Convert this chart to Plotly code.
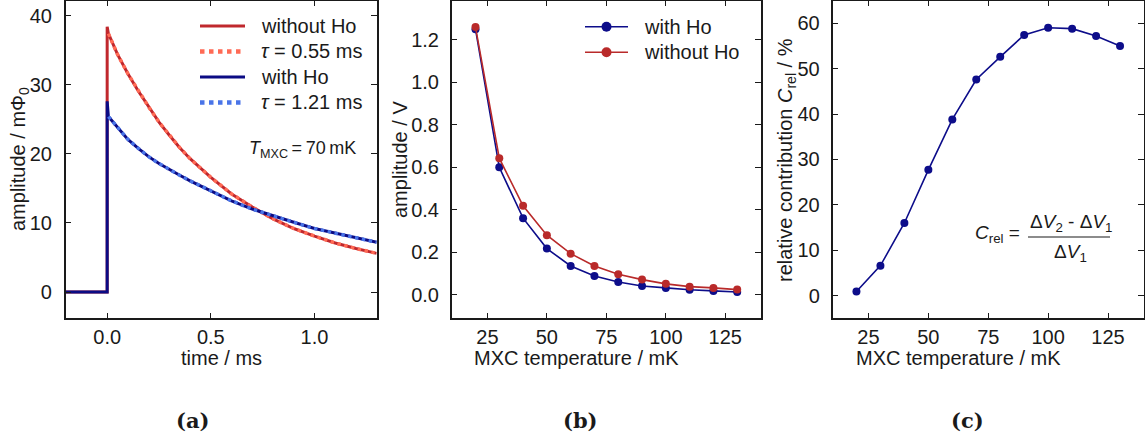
import plotly.graph_objects as go

# ---- (a) detector pulses at T_MXC = 70 mK ----
t_without = [-0.2, 0.0, 0.0, 0.006, 0.05, 0.1, 0.15, 0.2, 0.25, 0.3, 0.35, 0.4, 0.45,
             0.5, 0.6, 0.7, 0.8, 0.9, 1.0, 1.1, 1.2, 1.3]
amp_without = [0, 0, 38.4, 37.4, 34.4, 31.6, 29.1, 26.8, 24.6, 22.7, 20.9, 19.3, 17.9,
               16.6, 14.2, 12.3, 10.6, 9.2, 8.1, 7.1, 6.3, 5.6]

t_with = [-0.2, 0.0, 0.0, 0.006, 0.02, 0.05, 0.1, 0.15, 0.2, 0.25, 0.3, 0.35, 0.4, 0.45,
          0.5, 0.6, 0.7, 0.8, 0.9, 1.0, 1.1, 1.2, 1.3]
amp_with = [0, 0, 27.6, 25.4, 24.9, 23.8, 22.1, 20.8, 19.6, 18.6, 17.7, 16.9, 16.1, 15.4,
            14.7, 13.2, 12.0, 11.0, 10.1, 9.2, 8.5, 7.8, 7.2]

# exponential fits start right after the rising edge
fit_start_without = 3
fit_start_with = 3
tau_without = "0.55"
tau_with = "1.21"

# ---- (b) pulse amplitude vs mixing-chamber temperature ----
temps = [20, 30, 40, 50, 60, 70, 80, 90, 100, 110, 120, 130]
amp_v_with = [1.25, 0.60, 0.361, 0.218, 0.136, 0.089, 0.061, 0.042, 0.033, 0.024, 0.019, 0.014]
amp_v_without = [1.26, 0.643, 0.419, 0.281, 0.194, 0.136, 0.097, 0.072, 0.052, 0.039, 0.033, 0.025]

# ---- (c) relative contribution ----
c_rel = [0.9, 6.6, 16.0, 27.7, 38.8, 47.6, 52.6, 57.4, 59.0, 58.8, 57.2, 55.0]

W, H = 1145, 439
RED = "#c0282d"
RED_FIT = "#ff6a55"
BLUE = "#0b0b84"
BLUE_FIT = "#4a74e8"
RED_B = "#b92a2a"
BLUE_B = "#0d0d8a"
SANS = "Liberation Sans, Arial, sans-serif"
INK = "#1a1a1a"

fig = go.Figure()

# (a)
fig.add_trace(go.Scatter(x=t_without, y=amp_without, mode="lines", name="without Ho",
                         line=dict(color=RED, width=3), xaxis="x", yaxis="y"))
fig.add_trace(go.Scatter(x=t_without[fit_start_without:], y=amp_without[fit_start_without:],
                         mode="lines", name=f"τ = {tau_without} ms",
                         line=dict(color=RED_FIT, width=3.5, dash="dot"), xaxis="x", yaxis="y"))
fig.add_trace(go.Scatter(x=t_with, y=amp_with, mode="lines", name="with Ho",
                         line=dict(color=BLUE, width=3), xaxis="x", yaxis="y"))
fig.add_trace(go.Scatter(x=t_with[fit_start_with:], y=amp_with[fit_start_with:],
                         mode="lines", name=f"τ = {tau_with} ms",
                         line=dict(color=BLUE_FIT, width=3.5, dash="dot"), xaxis="x", yaxis="y"))

# (b)
fig.add_trace(go.Scatter(x=temps, y=amp_v_with, mode="lines+markers", name="with Ho",
                         line=dict(color=BLUE_B, width=1.6), marker=dict(color=BLUE_B, size=8),
                         xaxis="x2", yaxis="y2"))
fig.add_trace(go.Scatter(x=temps, y=amp_v_without, mode="lines+markers", name="without Ho",
                         line=dict(color=RED_B, width=1.6), marker=dict(color=RED_B, size=8),
                         xaxis="x2", yaxis="y2"))

# (c)
fig.add_trace(go.Scatter(x=temps, y=c_rel, mode="lines+markers", name="C_rel",
                         line=dict(color=BLUE_B, width=1.6), marker=dict(color=BLUE_B, size=8),
                         xaxis="x3", yaxis="y3"))

ydom = [(H - 318.3) / H, (H - 0.5) / H]


def ax(domain, rng, dtick, tick0=0, fmt=None, standoff=0, anchor=None):
    d = dict(domain=domain, range=rng, dtick=dtick, tick0=tick0, showline=True,
             linewidth=1.5, linecolor=INK, mirror="ticks", ticks="inside", ticklen=6,
             tickwidth=1.2, tickcolor=INK, showgrid=False, zeroline=False,
             tickfont=dict(family=SANS, size=20, color=INK), ticklabelstandoff=standoff)
    if fmt:
        d["tickformat"] = fmt
    if anchor:
        d["anchor"] = anchor
    return d


fig.update_layout(
    width=W, height=H, margin=dict(l=0, r=0, t=0, b=0),
    paper_bgcolor="white", plot_bgcolor="white", showlegend=False,
    font=dict(family=SANS, size=20, color=INK),
    xaxis=ax([65.7 / W, 376.7 / W], [-0.2, 1.3], 0.5, fmt=".1f", standoff=0, anchor="y"),
    yaxis=ax(ydom, [-3.8, 42.2], 10, standoff=8, anchor="x"),
    xaxis2=ax([451.7 / W, 761 / W], [10, 140], 25, standoff=0, anchor="y2"),
    yaxis2=ax(ydom, [-0.11, 1.385], 0.2, fmt=".1f", standoff=7, anchor="x2"),
    xaxis3=ax([832.5 / W, 1144 / W], [10, 140], 25, standoff=0, anchor="y3"),
    yaxis3=ax(ydom, [-5, 65], 10, standoff=7, anchor="x3"),
)


def px(x):
    return x / W


def py(y):
    return 1 - y / H


def note(x, y, text, size=20, angle=0, family=SANS, xanchor="center"):
    fig.add_annotation(x=px(x), y=py(y), xref="paper", yref="paper", text=text,
                       showarrow=False, textangle=angle, xanchor=xanchor, yanchor="middle",
                       font=dict(family=family, size=size, color=INK))


def key_line(x0, x1, y, color, width, dash="solid"):
    fig.add_shape(type="line", xref="paper", yref="paper", x0=px(x0), x1=px(x1),
                  y0=py(y), y1=py(y), line=dict(color=color, width=width, dash=dash))


def key_dot(xc, y, color, r=5):
    fig.add_shape(type="circle", xref="paper", yref="paper", x0=px(xc - r), x1=px(xc + r),
                  y0=py(y + r), y1=py(y - r), fillcolor=color, line=dict(color=color, width=0))


# legend of (a), built from the traces' own names and styles
rows_a = [26, 51.5, 77, 102.5]
for tr, yr in zip(fig.data[:4], rows_a):
    dotted = tr.line.dash == "dot"
    key_line(200, 245, yr, tr.line.color, 4.5 if dotted else 3, "dot" if dotted else "solid")
    label = tr.name.replace("τ", "<i>τ</i>")
    note(259, yr, label, xanchor="left")

# legend of (b)
rows_b = [26.7, 52.3]
for tr, yr in zip(fig.data[4:6], rows_b):
    key_line(585, 628, yr, tr.line.color, 1.6)
    key_dot(606.5, yr, tr.marker.color, r=5)
    note(642, yr, tr.name, xanchor="left")

# axis titles
note(221, 358, "time / ms")
note(19, 159, "amplitude / mΦ<sub>0</sub>", angle=-90)
note(576, 358, "MXC temperature / mK")
note(400, 160, "amplitude / V", angle=-90)
note(958, 358, "MXC temperature / mK")
note(786, 160, "relative contribution <i>C</i><sub>rel</sub> / %", angle=-90)

# temperature label in (a)
note(358, 149, "<i>T</i><sub>MXC</sub>\u2009=\u200970\u2009mK", size=18, xanchor="right")

# C_rel definition in (c)
note(997, 234, "<i>C</i><sub>rel</sub> =", size=19)
note(1071, 223, "Δ<i>V</i><sub>2</sub> - Δ<i>V</i><sub>1</sub>", size=19)
note(1070, 253, "Δ<i>V</i><sub>1</sub>", size=19)
fig.add_shape(type="line", xref="paper", yref="paper", x0=px(1028), x1=px(1110),
              y0=py(237), y1=py(237), line=dict(color=INK, width=1.2))

# subfigure captions
for cx, lab in [(192, "(a)"), (580, "(b)"), (967, "(c)")]:
    note(cx, 420, f"<b>{lab}</b>", size=21, family="DejaVu Serif, serif")

fig.write_html("out.html")
